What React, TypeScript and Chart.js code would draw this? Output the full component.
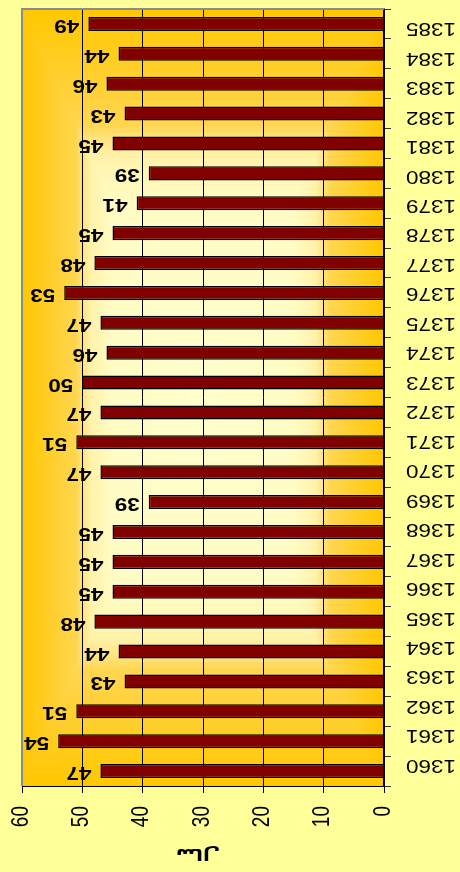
import React, { useEffect, useRef } from 'react';
import { Chart, registerables } from 'chart.js';

Chart.register(...registerables);

const years = ['1360', '1361', '1362', '1363', '1364', '1365', '1366', '1367', '1368', '1369', '1370', '1371', '1372', '1373', '1374', '1375', '1376', '1377', '1378', '1379', '1380', '1381', '1382', '1383', '1384', '1385'];
const values = [47, 54, 51, 43, 44, 48, 45, 45, 45, 39, 47, 51, 47, 50, 46, 47, 53, 48, 45, 41, 39, 45, 43, 46, 44, 49];
const xTicks = [0, 10, 20, 30, 40, 50, 60];
const axisTitle = 'سال';

const W = 460;
const H = 872;
const STRETCH = 1.25;
const SANS = 'Liberation Sans';

const stops: [number, [number, number, number]][] = [
  [0, [255, 255, 204]],
  [0.5, [255, 252, 196]],
  [0.62, [255, 242, 170]],
  [0.67, [255, 226, 122]],
  [0.7, [255, 214, 80]],
  [0.85, [255, 206, 40]],
  [1, [255, 200, 0]],
];

function colorAt(t: number): [number, number, number] {
  if (t <= 0) return stops[0][1];
  for (let i = 1; i < stops.length; i++) {
    if (t <= stops[i][0]) {
      const [t0, c0] = stops[i - 1];
      const [t1, c1] = stops[i];
      const f = (t - t0) / (t1 - t0);
      return [c0[0] + (c1[0] - c0[0]) * f, c0[1] + (c1[1] - c0[1]) * f, c0[2] + (c1[2] - c0[2]) * f];
    }
  }
  return stops[stops.length - 1][1];
}

export default function App() {
  const ref = useRef<HTMLCanvasElement>(null);

  useEffect(() => {
    document.body.style.margin = '0';
    const canvas = ref.current!;

    const bgPlugin = {
      id: 'bgPlugin',
      beforeDraw(chart: any) {
        const ctx: CanvasRenderingContext2D = chart.ctx;
        const a = chart.chartArea;
        ctx.save();
        ctx.fillStyle = '#FFFF99';
        ctx.fillRect(0, 0, chart.width, chart.height);
        const l = Math.round(a.left), t = Math.round(a.top), r = Math.round(a.right), b = Math.round(a.bottom);
        const w = r - l, h = b - t;
        const cx = (l + r) / 2;
        const cy = (t + b) / 2;
        const img = ctx.createImageData(w, h);
        for (let y = 0; y < h; y++) {
          const dy = Math.abs(t + y + 0.5 - cy) / (h / 2);
          for (let x = 0; x < w; x++) {
            const dx = Math.abs(l + x + 0.5 - cx) / (w / 2);
            const c = colorAt(Math.max(dx, dy));
            const k = (y * w + x) * 4;
            img.data[k] = c[0];
            img.data[k + 1] = c[1];
            img.data[k + 2] = c[2];
            img.data[k + 3] = 255;
          }
        }
        ctx.putImageData(img, l, t);
        ctx.restore();
      },
    };

    const textPlugin = {
      id: 'textPlugin',
      afterDraw(chart: any) {
        const ctx: CanvasRenderingContext2D = chart.ctx;
        const a = chart.chartArea;
        const xs = chart.scales.x;
        const ys = chart.scales.y;
        ctx.save();

        // gray plot border (top and left)
        ctx.strokeStyle = '#8C8C8C';
        ctx.lineWidth = 2;
        ctx.beginPath();
        ctx.moveTo(a.left, a.bottom);
        ctx.lineTo(a.left, a.top);
        ctx.lineTo(a.right, a.top);
        ctx.stroke();

        ctx.fillStyle = '#000';

        // category labels (upside down)
        const ymid = (a.top + a.bottom) / 2;
        ctx.font = `18px "${SANS}"`;
        ctx.textAlign = 'center';
        ctx.textBaseline = 'middle';
        years.forEach((lab, i) => {
          const py = ys.getPixelForValue(i);
          const y = ymid + (py - ymid) * 0.986 - 1;
          ctx.save();
          ctx.translate(a.right + 47, y);
          ctx.scale(STRETCH, 1);
          ctx.rotate(Math.PI);
          ctx.fillText(lab, 0, 0);
          ctx.restore();
        });

        // data labels (upside down, bold)
        ctx.font = `bold 18px "${SANS}"`;
        ctx.textAlign = 'left';
        const meta = chart.getDatasetMeta(0);
        values.forEach((v, i) => {
          const el = meta.data[i];
          ctx.save();
          ctx.translate(el.x - 9, el.y + 1);
          ctx.scale(STRETCH, 1);
          ctx.rotate(Math.PI);
          ctx.fillText(String(Math.round(v)), 0, 0);
          ctx.restore();
        });

        // value axis labels (rotated, reading upward)
        ctx.font = `19px "${SANS}"`;
        ctx.textAlign = 'right';
        ctx.textBaseline = 'middle';
        xTicks.forEach((v) => {
          const px = xs.getPixelForValue(v);
          ctx.save();
          ctx.translate(px - 1, a.bottom + 20);
          ctx.scale(STRETCH, 1);
          ctx.rotate(-Math.PI / 2);
          ctx.fillText(String(v), 0, 0);
          ctx.restore();
        });

        // axis title (upside down)
        ctx.font = 'bold 16px "DejaVu Sans"';
        ctx.textAlign = 'center';
        ctx.save();
        ctx.translate((a.left + a.right) / 2 - 5, a.bottom + 67);
        ctx.scale(STRETCH, 1);
        ctx.rotate(Math.PI);
        ctx.fillText(axisTitle, 0, 0);
        ctx.restore();

        ctx.restore();
      },
    };

    const chart = new Chart(canvas, {
      type: 'bar',
      data: {
        labels: years,
        datasets: [
          {
            data: values,
            backgroundColor: '#800000',
            borderColor: '#000000',
            borderWidth: 1.5,
            barPercentage: 0.47,
            categoryPercentage: 1,
          },
        ],
      },
      options: {
        indexAxis: 'y',
        responsive: false,
        animation: false,
        layout: { padding: { left: 22, top: 9, right: 69, bottom: 79 } },
        plugins: { legend: { display: false }, tooltip: { enabled: false } },
        scales: {
          x: {
            type: 'linear',
            position: 'bottom',
            reverse: true,
            min: 0,
            max: 60,
            ticks: { display: false, stepSize: 10 },
            grid: { color: '#000000', lineWidth: 1, tickLength: 7, drawTicks: true },
            border: { color: '#000000', width: 1 },
          },
          y: {
            type: 'category',
            position: 'right',
            reverse: true,
            ticks: { display: false },
            grid: { drawOnChartArea: false, tickLength: 7, color: '#333333', offset: true },
            border: { color: '#000000', width: 1.5 },
          },
        },
      },
      plugins: [bgPlugin, textPlugin],
    } as any);

    let alive = true;
    const redraw = () => {
      if (alive) chart.draw();
    };
    if ((document as any).fonts) {
      Promise.all([
        document.fonts.load(`18px "${SANS}"`),
        document.fonts.load(`bold 18px "${SANS}"`),
        document.fonts.load('bold 16px "DejaVu Sans"'),
      ]).then(redraw, redraw);
    }
    const tm = setTimeout(redraw, 200);

    return () => {
      alive = false;
      clearTimeout(tm);
      chart.destroy();
    };
  }, []);

  return <canvas ref={ref} width={W} height={H} style={{ display: 'block', width: W, height: H }} />;
}
